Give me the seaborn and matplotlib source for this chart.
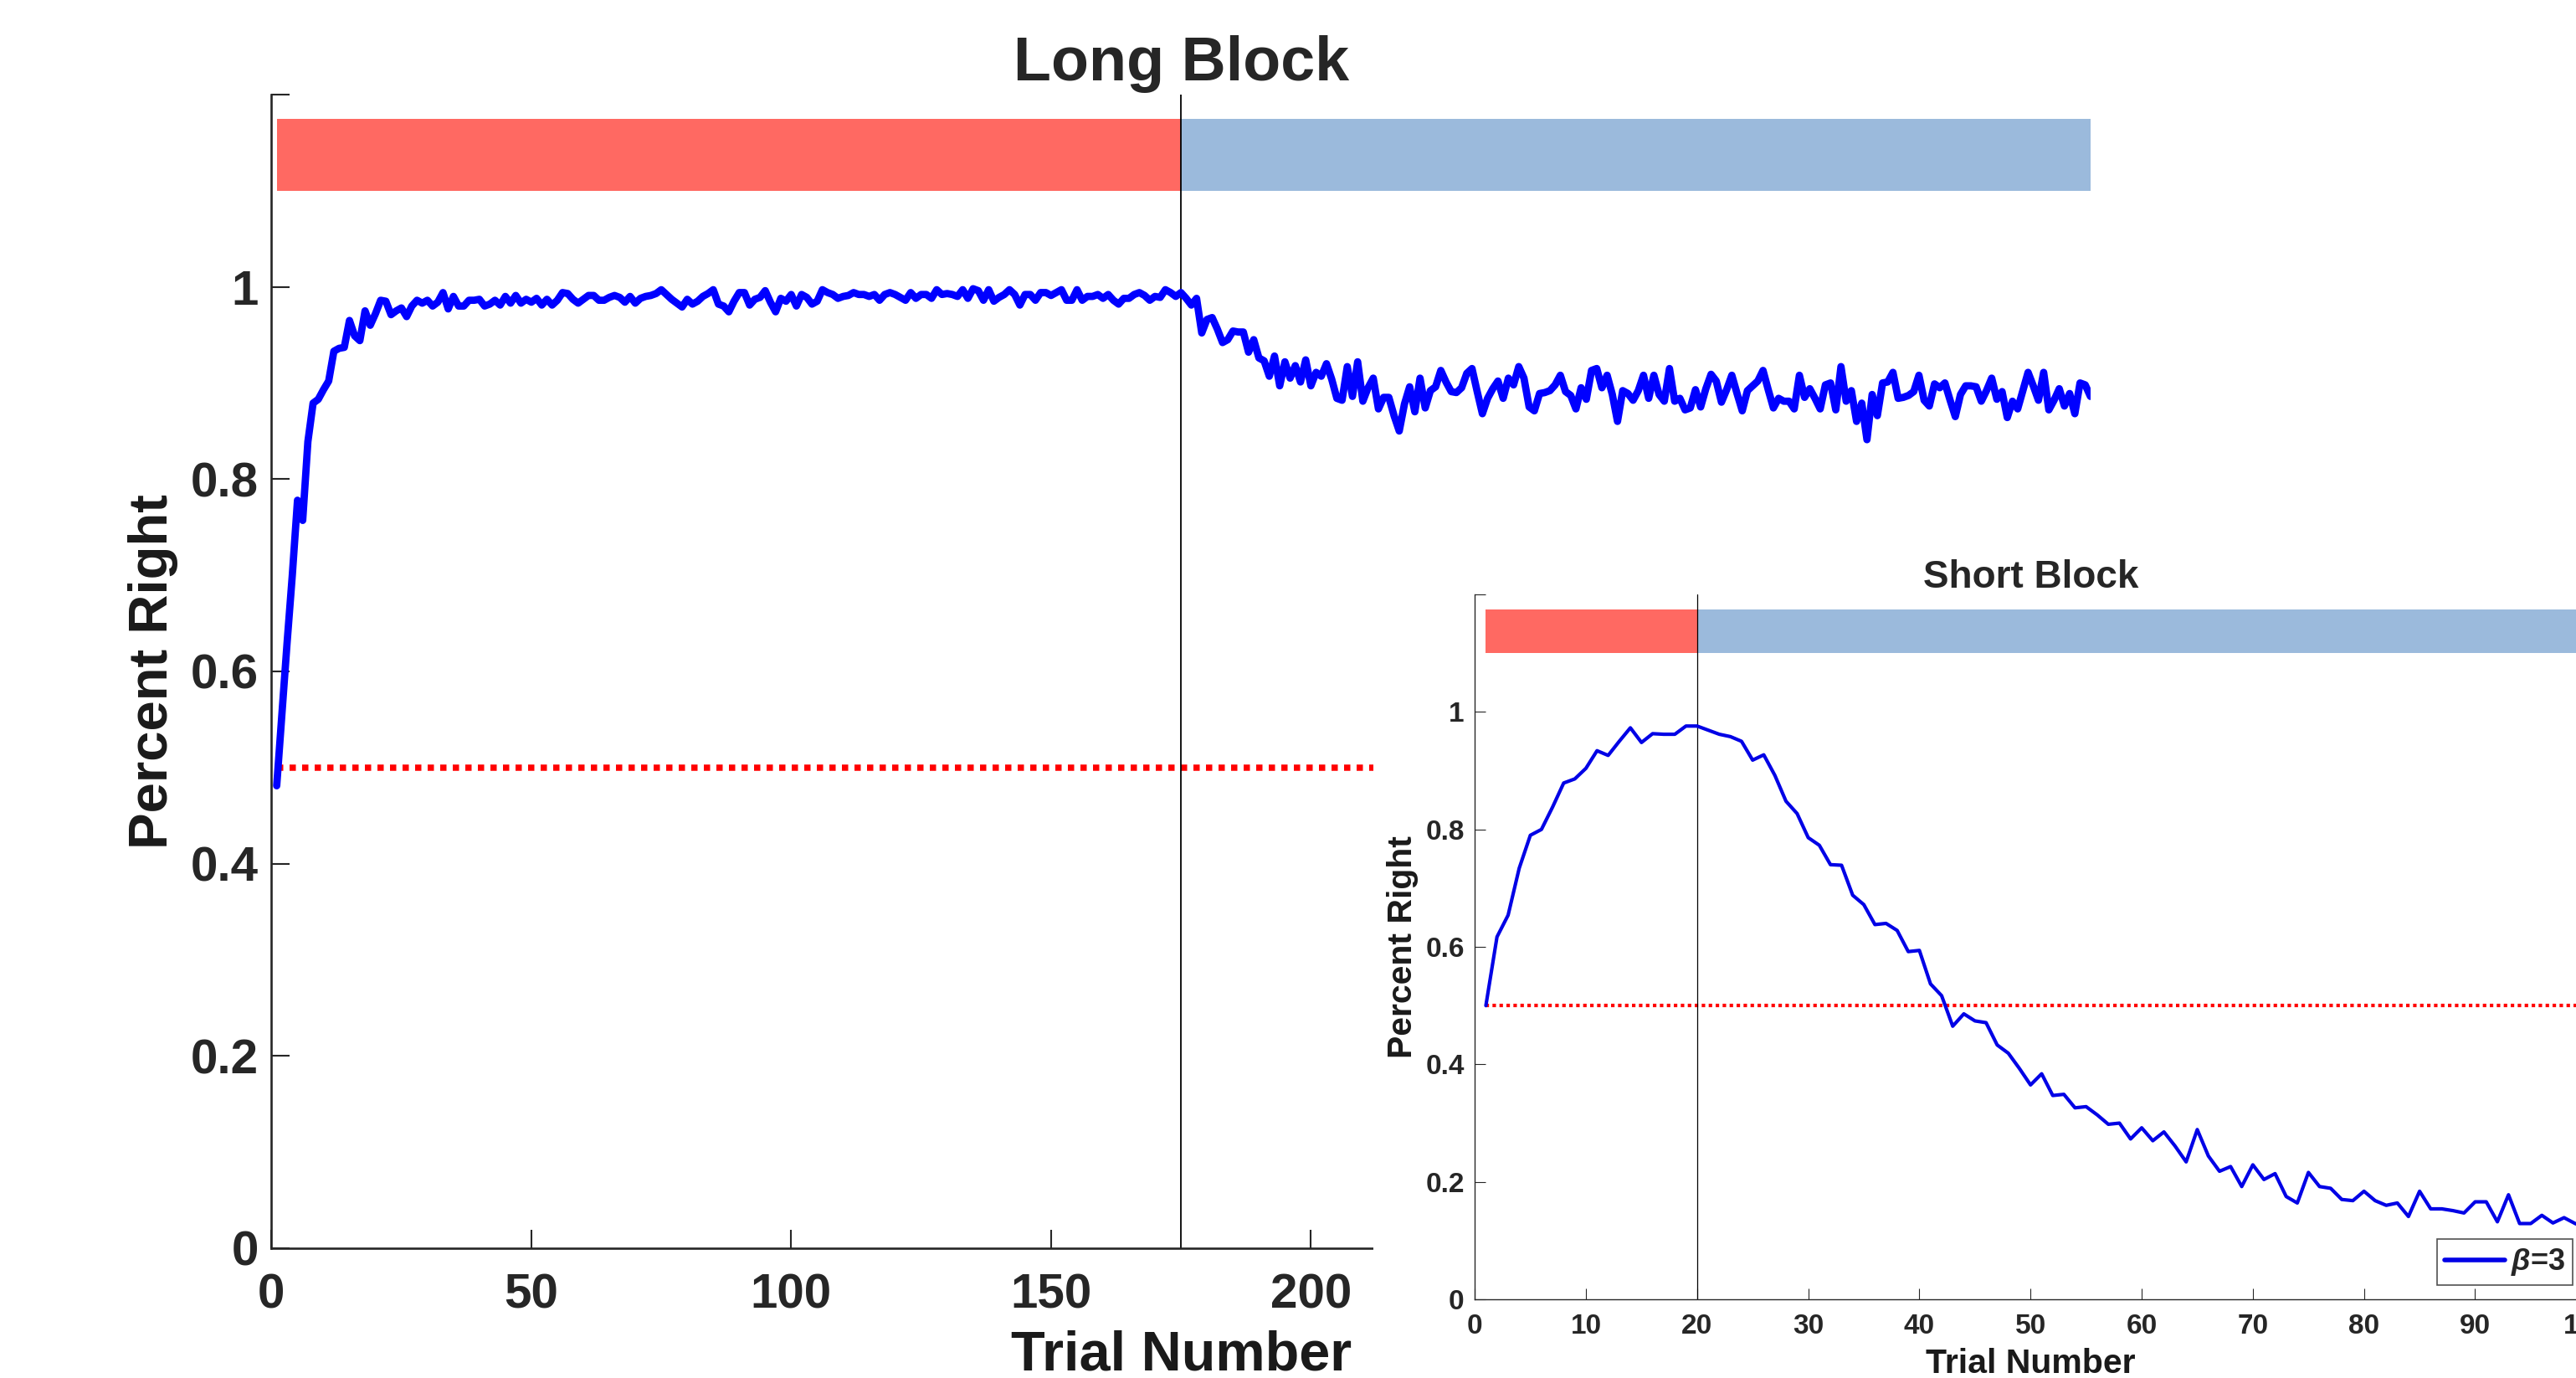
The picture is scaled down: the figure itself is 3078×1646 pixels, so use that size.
import matplotlib
matplotlib.use("Agg")
import matplotlib.pyplot as plt
from matplotlib.patches import Rectangle
import seaborn as sns

# -------- DATA --------
long_trials = list(range(1, 351))
long_right = [
    0.481, 0.555, 0.630, 0.700, 0.778, 0.757, 0.839, 0.879, 0.883, 0.893,
    0.902, 0.933, 0.936, 0.937, 0.965, 0.949, 0.944, 0.975, 0.960, 0.972,
    0.986, 0.985, 0.971, 0.975, 0.978, 0.969, 0.980, 0.986, 0.983, 0.986,
    0.980, 0.984, 0.994, 0.977, 0.990, 0.980, 0.980, 0.986, 0.986, 0.987,
    0.980, 0.982, 0.986, 0.981, 0.990, 0.983, 0.991, 0.983, 0.987, 0.984,
    0.988, 0.981, 0.987, 0.981, 0.986, 0.994, 0.993, 0.987, 0.983, 0.987,
    0.991, 0.991, 0.986, 0.986, 0.989, 0.991, 0.989, 0.984, 0.990, 0.983,
    0.988, 0.990, 0.991, 0.993, 0.997, 0.992, 0.987, 0.983, 0.979, 0.987,
    0.982, 0.985, 0.990, 0.993, 0.997, 0.982, 0.980, 0.974, 0.985, 0.994,
    0.994, 0.981, 0.987, 0.989, 0.996, 0.984, 0.974, 0.988, 0.985, 0.992,
    0.980, 0.992, 0.989, 0.982, 0.985, 0.997, 0.994, 0.992, 0.988, 0.990,
    0.991, 0.994, 0.992, 0.992, 0.990, 0.992, 0.986, 0.992, 0.994, 0.992,
    0.989, 0.986, 0.994, 0.988, 0.992, 0.992, 0.988, 0.997, 0.992, 0.993,
    0.992, 0.990, 0.997, 0.988, 0.998, 0.996, 0.986, 0.997, 0.985, 0.989,
    0.992, 0.997, 0.992, 0.981, 0.992, 0.992, 0.986, 0.994, 0.994, 0.991,
    0.994, 0.997, 0.986, 0.986, 0.997, 0.986, 0.990, 0.990, 0.992, 0.988,
    0.992, 0.986, 0.982, 0.988, 0.988, 0.992, 0.994, 0.991, 0.986, 0.990,
    0.989, 0.997, 0.994, 0.990, 0.994, 0.988, 0.981, 0.988, 0.952, 0.966,
    0.968, 0.956, 0.942, 0.945, 0.954, 0.953, 0.953, 0.932, 0.945, 0.926,
    0.923, 0.907, 0.928, 0.897, 0.922, 0.905, 0.918, 0.901, 0.924, 0.897,
    0.911, 0.907, 0.920, 0.904, 0.884, 0.882, 0.917, 0.886, 0.922, 0.881,
    0.895, 0.905, 0.873, 0.885, 0.885, 0.866, 0.850, 0.878, 0.896, 0.870,
    0.905, 0.874, 0.892, 0.896, 0.913, 0.901, 0.891, 0.890, 0.895, 0.910,
    0.915, 0.891, 0.868, 0.884, 0.894, 0.902, 0.884, 0.905, 0.898, 0.917,
    0.905, 0.875, 0.871, 0.889, 0.890, 0.892, 0.898, 0.908, 0.891, 0.887,
    0.873, 0.895, 0.883, 0.913, 0.915, 0.895, 0.908, 0.888, 0.860, 0.892,
    0.889, 0.882, 0.892, 0.908, 0.884, 0.908, 0.888, 0.881, 0.915, 0.881,
    0.884, 0.872, 0.874, 0.893, 0.875, 0.894, 0.909, 0.902, 0.880, 0.893,
    0.908, 0.889, 0.871, 0.892, 0.897, 0.902, 0.913, 0.893, 0.874, 0.884,
    0.881, 0.881, 0.873, 0.908, 0.885, 0.894, 0.884, 0.873, 0.898, 0.900,
    0.872, 0.917, 0.881, 0.892, 0.860, 0.879, 0.841, 0.888, 0.866, 0.900,
    0.901, 0.911, 0.884, 0.885, 0.887, 0.891, 0.908, 0.882, 0.876, 0.899,
    0.895, 0.900, 0.882, 0.865, 0.888, 0.897, 0.897, 0.896, 0.881, 0.892,
    0.905, 0.883, 0.891, 0.864, 0.881, 0.873, 0.892, 0.911, 0.897, 0.882,
    0.911, 0.872, 0.882, 0.894, 0.876, 0.889, 0.868, 0.900, 0.898, 0.886,
]

short_trials = list(range(1, 101))
short_right = [
    0.500, 0.617, 0.654, 0.734, 0.790, 0.800, 0.838, 0.879, 0.886, 0.904,
    0.934, 0.926, 0.950, 0.973, 0.948, 0.963, 0.962, 0.962, 0.976, 0.976,
    0.969, 0.962, 0.958, 0.950, 0.918, 0.927, 0.892, 0.848, 0.827, 0.786,
    0.773, 0.740, 0.739, 0.688, 0.672, 0.638, 0.640, 0.628, 0.592, 0.594,
    0.537, 0.517, 0.465, 0.486, 0.474, 0.471, 0.433, 0.419, 0.393, 0.365,
    0.384, 0.347, 0.349, 0.326, 0.328, 0.314, 0.298, 0.300, 0.273, 0.292,
    0.270, 0.285, 0.261, 0.234, 0.289, 0.244, 0.218, 0.226, 0.192, 0.229,
    0.204, 0.214, 0.175, 0.164, 0.216, 0.192, 0.189, 0.170, 0.168, 0.184,
    0.168, 0.160, 0.164, 0.141, 0.184, 0.154, 0.154, 0.151, 0.147, 0.166,
    0.166, 0.132, 0.178, 0.129, 0.129, 0.143, 0.130, 0.139, 0.129, 0.122,
]

long_switch = 175
short_switch = 20
chance = 0.5
block_bottom = 1.1
block_top = 1.175

y_ticks = [0, 0.2, 0.4, 0.6, 0.8, 1, 1.2]
y_tick_labels = ["0", "0.2", "0.4", "0.6", "0.8", "1", ""]
long_x_ticks = [0, 50, 100, 150, 200, 250, 300, 350]
short_x_ticks = [0, 10, 20, 30, 40, 50, 60, 70, 80, 90, 100]
beta_label = r"$\beta$=3"

RED_BLOCK = "#FF6962"
BLUE_BLOCK = "#9BBADC"
AXIS_GRAY = "#262626"

# -------- STYLE --------
sns.set_theme(style="white")
plt.rcParams["font.family"] = ["Liberation Sans", "DejaVu Sans"]
plt.rcParams["font.weight"] = "bold"
plt.rcParams["mathtext.fontset"] = "custom"
plt.rcParams["mathtext.rm"] = "Liberation Sans:bold"
plt.rcParams["mathtext.it"] = "Liberation Sans:italic"
plt.rcParams["mathtext.bf"] = "Liberation Sans:bold"

fig = plt.figure(figsize=(30.78, 16.46), dpi=100)


def style_axes(ax, xticks, xmax, tick_len, spine_w, label_size, xpad, ypad):
    sns.despine(ax=ax)
    for side in ["left", "bottom"]:
        ax.spines[side].set_color(AXIS_GRAY)
        ax.spines[side].set_linewidth(spine_w)
    ax.set_xlim(0, xmax)
    ax.set_ylim(0, 1.2)
    ax.set_xticks(xticks)
    ax.set_yticks(y_ticks)
    ax.set_yticklabels(y_tick_labels)
    ax.tick_params(direction="in", length=tick_len, width=spine_w * 0.8,
                   color=AXIS_GRAY, labelcolor=AXIS_GRAY, labelsize=label_size,
                   left=True, bottom=True)
    ax.tick_params(axis="x", pad=xpad)
    ax.tick_params(axis="y", pad=ypad)
    ax.grid(False)


# -------- LONG BLOCK --------
ax = fig.add_axes([0.1054, 0.0942, 0.7061, 0.8372])
ax.set_zorder(0)
ax.barh(y=(block_bottom + block_top) / 2, width=long_switch - long_trials[0],
        left=long_trials[0], height=block_top - block_bottom,
        color=RED_BLOCK, linewidth=0)
ax.barh(y=(block_bottom + block_top) / 2, width=long_trials[-1] - long_switch,
        left=long_switch, height=block_top - block_bottom,
        color=BLUE_BLOCK, linewidth=0)
ax.plot([long_trials[0], long_trials[-1]], [chance, chance], color="red",
        linestyle=(0, (1, 1)), linewidth=5.4)
ax.axvline(long_switch, color="black", linewidth=1.3)
sns.lineplot(x=long_trials, y=long_right, ax=ax, color="blue",
             linewidth=6.3, legend=False)
style_axes(ax, long_x_ticks, 350, 16, 1.9, 42, 21, 11)
ax.set_title("Long Block", fontsize=53, fontweight="bold", pad=12)
ax.set_xlabel("Trial Number", fontsize=48, fontweight="bold", labelpad=10,
              color="#1a1a1a")
ax.set_ylabel("Percent Right", fontsize=47, fontweight="bold", labelpad=11,
              color="#1a1a1a")

# white panel behind the inset
fig.add_artist(Rectangle((0.5331, 0.0), 0.4669, 0.6233,
                         transform=fig.transFigure, facecolor="white",
                         edgecolor="none", zorder=0.5))

# -------- SHORT BLOCK --------
ax2 = fig.add_axes([0.5725, 0.0571, 0.4315, 0.5115])
ax2.set_zorder(2)
ax2.barh(y=(block_bottom + block_top) / 2, width=short_switch - short_trials[0],
         left=short_trials[0], height=block_top - block_bottom,
         color=RED_BLOCK, linewidth=0)
ax2.barh(y=(block_bottom + block_top) / 2, width=short_trials[-1] - short_switch,
         left=short_switch, height=block_top - block_bottom,
         color=BLUE_BLOCK, linewidth=0)
ax2.plot([short_trials[0], short_trials[-1]], [chance, chance], color="red",
         linestyle=(0, (1, 1)), linewidth=3)
ax2.axvline(short_switch, color="black", linewidth=0.9)
sns.lineplot(x=short_trials, y=short_right, ax=ax2, color="#0000E6",
             linewidth=3, label=beta_label)
style_axes(ax2, short_x_ticks, 100, 9.5, 1.0, 24, 12, 9)
ax2.set_title("Short Block", fontsize=33, fontweight="bold", pad=6)
ax2.set_xlabel("Trial Number", fontsize=29.5, fontweight="bold", labelpad=7.5,
               color="#1a1a1a")
ax2.set_ylabel("Percent Right", fontsize=29.5, fontweight="bold", labelpad=6,
               color="#1a1a1a")
leg = ax2.legend(loc="lower right", bbox_to_anchor=(0.988, 0.02),
                 borderaxespad=0, fontsize=26, frameon=True, fancybox=False,
                 handlelength=2.0, handletextpad=0.2, borderpad=0.25)
leg.get_frame().set_edgecolor(AXIS_GRAY)
leg.get_frame().set_linewidth(1.2)
for line in leg.get_lines():
    line.set_linewidth(4)

fig.savefig("out.png", dpi=100, facecolor="white")
